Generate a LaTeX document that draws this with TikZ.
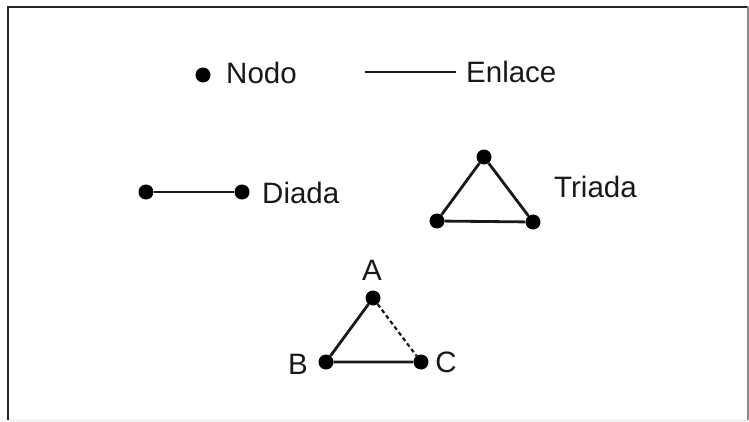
\documentclass[tikz,border=0pt]{standalone}
\usepackage{fontspec}
\setmainfont{Liberation Sans}
\usepackage{tikz}

\tikzset{
  punto/.style={circle, fill=black, inner sep=0pt, minimum size=15pt},
  enlace/.style={line width=2.8pt, black!90},
  etiqueta/.style={font=\fontsize{29.5}{32}\selectfont, text=black!90, inner sep=0pt}
}

\begin{document}
\begin{tikzpicture}[x=1pt, y=-1pt]
        \useasboundingbox (0,0) rectangle (749,422);
        \fill[white] (0,0) rectangle (749,422);

        % marco
        \draw[black!85, line width=1.6pt] (8,420) -- (8,7) -- (748,7);
        \draw[black!45, line width=1.4pt] (748,7) -- (748,420);
        \draw[black!10, line width=1pt] (8,420) -- (748,420);

        % leyenda
        \node[punto] (n) at (203,75) {};
        \node[etiqueta, anchor=west] (nodo) at (226,73) {Nodo};
        \coordinate (e1) at (365,72);
        \coordinate (e2) at (456,72);
        \draw[enlace] (e1) -- (e2);
        \node[etiqueta, anchor=west] (enl) at (466,72) {Enlace};

        % diada
        \node[punto] (d1) at (146,192) {};
        \node[punto] (d2) at (242,192) {};
        \draw[enlace] (d1) -- (d2);
        \node[etiqueta, anchor=west] (diada) at (262,193) {Diada};

        % triada
        \node[punto] (t1) at (484,157) {};
        \node[punto] (t2) at (437,221) {};
        \node[punto] (t3) at (533,222) {};
        \draw[enlace] (t1) -- (t2) -- (t3) -- (t1);
        \node[etiqueta, anchor=west] (triada) at (554,187) {Triada};

        % triada abierta
        \node[punto] (a) at (373,298) {};
        \node[punto] (b) at (326,362) {};
        \node[punto] (c) at (421,362) {};
        \draw[enlace] (a) -- (b) -- (c);
        \draw[enlace, line width=2.2pt, dash pattern=on 4pt off 3pt] (a) -- (c);
        \node[etiqueta] (la) at (372,270) {A};
        \node[etiqueta] (lb) at (298,364) {B};
        \node[etiqueta] (lc) at (446,362) {C};
      \end{tikzpicture}
\end{document}
